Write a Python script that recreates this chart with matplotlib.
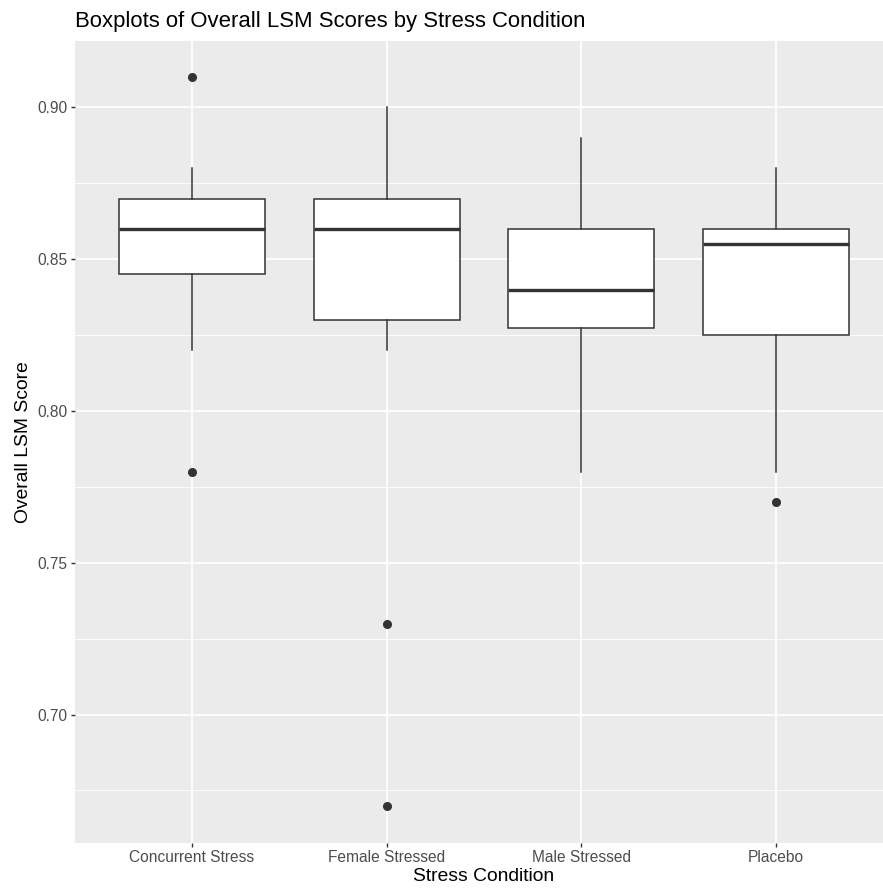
import matplotlib
matplotlib.use('Agg')
import matplotlib.pyplot as plt
from matplotlib.ticker import MultipleLocator

plt.rcParams['font.family'] = ['Liberation Sans', 'DejaVu Sans']

conditions = ['Concurrent Stress', 'Female Stressed', 'Male Stressed', 'Placebo']
whisker_low = [0.82, 0.82, 0.78, 0.78]
q1 = [0.845, 0.83, 0.8275, 0.825]
median = [0.86, 0.86, 0.84, 0.855]
q3 = [0.87, 0.87, 0.86, 0.86]
whisker_high = [0.88, 0.90, 0.89, 0.88]
outliers = [[0.91, 0.78], [0.73, 0.67], [], [0.77]]

stats = []
for i, name in enumerate(conditions):
    stats.append({'label': name, 'whislo': whisker_low[i], 'q1': q1[i],
                  'med': median[i], 'q3': q3[i], 'whishi': whisker_high[i],
                  'fliers': outliers[i]})

fig = plt.figure(figsize=(8.83, 8.93), dpi=100)
ax = fig.add_axes([75 / 883, (893 - 842.7) / 893, 818 / 883, 802 / 893])
ax.set_facecolor('#EBEBEB')

ax.bxp(stats, positions=range(1, 5), widths=0.75, showcaps=False,
       patch_artist=True, zorder=3,
       boxprops=dict(facecolor='white', edgecolor='#333333', linewidth=1.1),
       medianprops=dict(color='#333333', linewidth=2.4),
       whiskerprops=dict(color='#333333', linewidth=1.1),
       flierprops=dict(marker='o', markerfacecolor='#333333',
                       markeredgecolor='#333333', markersize=5.5))

ax.set_xlim(0.4, 4.6)
ax.set_ylim(0.6578, 0.922)
ax.yaxis.set_major_locator(MultipleLocator(0.05))
ax.yaxis.set_minor_locator(MultipleLocator(0.025))
ax.set_yticklabels([f'{t:.2f}' for t in ax.get_yticks()])
ax.grid(which='major', color='white', linewidth=1.3, zorder=0)
ax.grid(which='minor', axis='y', color='white', linewidth=0.65, zorder=0)
ax.set_axisbelow(True)
for s in ax.spines.values():
    s.set_visible(False)

ax.tick_params(axis='both', which='major', length=3.1, width=1.0,
               color='#333333', labelcolor='#4D4D4D', labelsize=11.2, pad=2.5)
ax.tick_params(axis='y', which='minor', length=0)

ax.set_xlabel('Stress Condition', fontsize=13.9, color='black', labelpad=2)
ax.set_ylabel('Overall LSM Score', fontsize=13.9, color='black', labelpad=4)
ax.set_title('Boxplots of Overall LSM Scores by Stress Condition',
             fontsize=15.9, loc='left', pad=10)

fig.savefig('out.png', dpi=100)
